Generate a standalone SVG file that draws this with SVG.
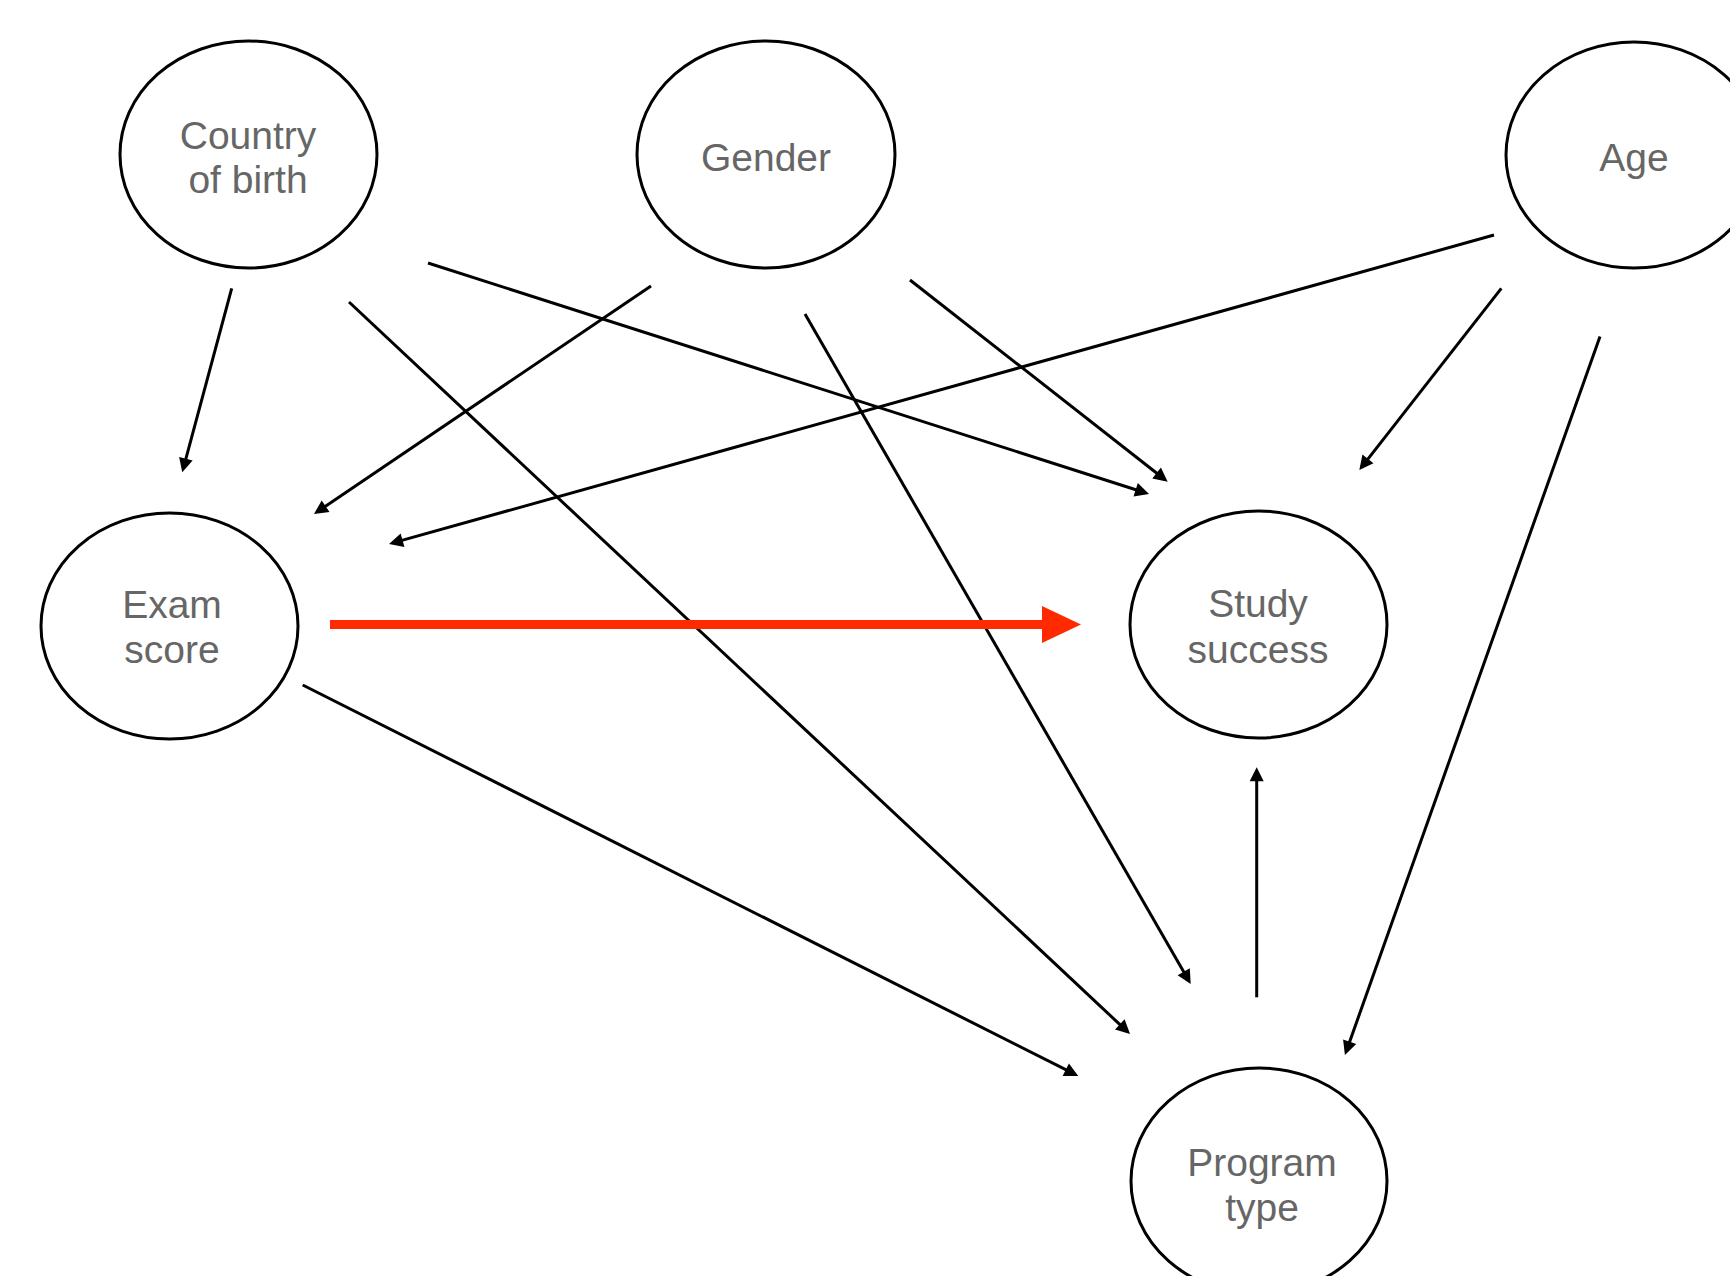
<svg xmlns="http://www.w3.org/2000/svg" width="1730" height="1276" viewBox="0 0 1730 1276">
<defs>
<style>
.node ellipse{fill:#fff;stroke:#000;stroke-width:3}
.node text{font-family:"Helvetica Neue",Helvetica,"Liberation Sans",Arial,sans-serif;font-size:39px;fill:#666;text-anchor:middle}
.edge{stroke:#000;stroke-width:3;fill:none;marker-end:url(#ah)}
.red{stroke:#ff2a00;stroke-width:9;fill:none;marker-end:url(#ahr)}
</style>
<marker id="ah" markerUnits="userSpaceOnUse" markerWidth="14" markerHeight="14" refX="10" refY="7" orient="auto" overflow="visible">
<path d="M0,0 L14,7 L0,14 z" fill="#000"/>
</marker>
<marker id="ahr" markerUnits="userSpaceOnUse" markerWidth="39" markerHeight="37" refX="0" refY="18.5" orient="auto" overflow="visible">
<path d="M0,0 L39,18.5 L0,37 z" fill="#ff2a00"/>
</marker>
</defs>
<rect width="1730" height="1276" fill="#fff"/>
<g id="connectors">
<line class="edge" x1="231.7" y1="288.3" x2="183.3" y2="468.4"/>
<line class="edge" x1="349" y1="302" x2="1127.1" y2="1031.3"/>
<line class="edge" x1="428" y1="263" x2="1145.2" y2="492.8"/>
<line class="edge" x1="651" y1="286" x2="317.3" y2="511.8"/>
<line class="edge" x1="910" y1="280" x2="1164.5" y2="479.2"/>
<line class="edge" x1="805" y1="314" x2="1188.7" y2="980.5"/>
<line class="edge" x1="1494" y1="235" x2="392.9" y2="542.9"/>
<line class="edge" x1="1501.3" y1="288.3" x2="1361.8" y2="466.8"/>
<line class="edge" x1="1600" y1="336.5" x2="1346.3" y2="1051.2"/>
<line class="edge" x1="302.7" y1="685" x2="1074.7" y2="1074.2"/>
<line class="edge" x1="1256.7" y1="997.3" x2="1256.7" y2="771.3"/>
<line class="red" x1="330" y1="624.5" x2="1042" y2="624.5"/>
</g>
<g id="country" class="node">
<ellipse cx="248.5" cy="154.5" rx="128.5" ry="113.5"/>
<text x="248" y="149">Country</text>
<text x="248" y="193">of birth</text>
</g>
<g id="gender" class="node">
<ellipse cx="766" cy="154.5" rx="129" ry="113.5"/>
<text x="766" y="171">Gender</text>
</g>
<g id="age" class="node">
<ellipse cx="1634" cy="155" rx="128" ry="113"/>
<text x="1634" y="171">Age</text>
</g>
<g id="exam" class="node">
<ellipse cx="169.5" cy="626" rx="128.5" ry="113"/>
<text x="172" y="618">Exam</text>
<text x="172" y="663">score</text>
</g>
<g id="study" class="node">
<ellipse cx="1258.5" cy="624.5" rx="128.5" ry="113.5"/>
<text x="1258" y="617">Study</text>
<text x="1258" y="663">success</text>
</g>
<g id="program" class="node">
<ellipse cx="1259" cy="1181" rx="128" ry="113"/>
<text x="1262" y="1176">Program</text>
<text x="1262" y="1221">type</text>
</g>
</svg>
